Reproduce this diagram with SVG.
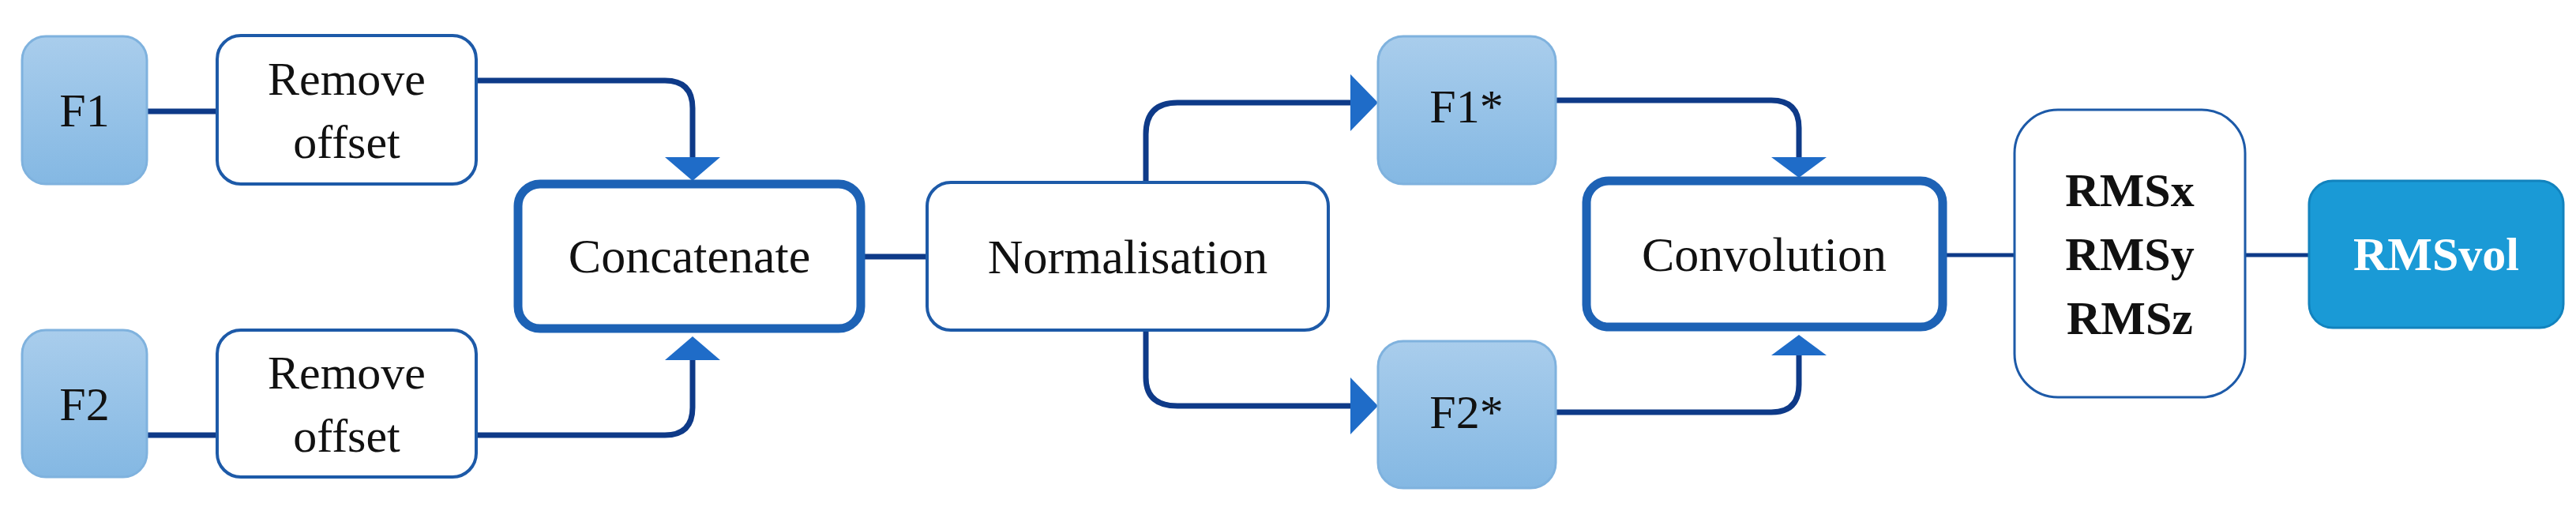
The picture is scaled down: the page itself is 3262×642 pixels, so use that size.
<svg xmlns="http://www.w3.org/2000/svg" width="3262" height="642" viewBox="0 0 3262 642">
<style>
text{font-family:"Liberation Serif",serif;font-size:60px;fill:#111;text-anchor:middle;dominant-baseline:central}
.lb{fill:url(#g);stroke:#7fb2de;stroke-width:3}
.wb{fill:#fff;stroke:#1d5aa8;stroke-width:4}
.tb{fill:#fff;stroke:#1d62b5;stroke-width:11}
.c{fill:none;stroke:#0e3a88;stroke-width:7}
.b{font-weight:bold}
</style>
<defs>
<linearGradient id="g" x1="0" y1="0" x2="0" y2="1"><stop offset="0" stop-color="#a9cdec"/><stop offset="1" stop-color="#84b8e3"/></linearGradient>
<marker id="a" markerWidth="10" markerHeight="10" refX="9" refY="5" orient="auto" markerUnits="userSpaceOnUse" viewBox="0 0 10 10" style="overflow:visible"><path d="M-28,-32 L9,5 L-28,42 Z" transform="translate(0,0)" fill="#1f6cc8"/></marker>
</defs>
<g id="connectors">
<path class="c" d="M186,141 H275"/>
<path class="c" d="M186,551 H275"/>
<path class="c" d="M603,102 H842 Q877,102 877,137 V200"/>
<polygon points="842,199 912,199 877,229" fill="#1f6cc8"/>
<path class="c" d="M603,551 H842 Q877,551 877,516 V456"/>
<polygon points="842,456 912,456 877,426" fill="#1f6cc8"/>
<path class="c" d="M1094,325 H1174"/>
<path class="c" d="M1451,231 V170 Q1451,130 1491,130 H1712"/>
<polygon points="1710,94 1745,130 1710,166" fill="#1f6cc8"/>
<path class="c" d="M1451,418 V478 Q1451,514 1491,514 H1712"/>
<polygon points="1710,478 1745,514 1710,550" fill="#1f6cc8"/>
<path class="c" d="M1970,127 H2243 Q2278,127 2278,162 V200"/>
<polygon points="2243,199 2313,199 2278,225" fill="#1f6cc8"/>
<path class="c" d="M1970,522 H2243 Q2278,522 2278,487 V450"/>
<polygon points="2243,450 2313,450 2278,424" fill="#1f6cc8"/>
<path class="c" d="M2464,323 H2551" style="stroke-width:5"/>
<path class="c" d="M2843,323 H2924" style="stroke-width:5"/>
</g>
<g id="F1"><rect class="lb" x="28" y="46" width="158" height="187" rx="30"/><text x="107" y="140">F1</text></g>
<g id="RO1"><rect class="wb" x="275" y="45" width="328" height="188" rx="30"/><text x="439" y="100">Remove</text><text x="439" y="180">offset</text></g>
<g id="F2"><rect class="lb" x="28" y="418" width="158" height="186" rx="30"/><text x="107" y="512">F2</text></g>
<g id="RO2"><rect class="wb" x="275" y="418" width="328" height="186" rx="30"/><text x="439" y="472">Remove</text><text x="439" y="552">offset</text></g>
<g id="Concat"><rect class="tb" x="656" y="233" width="434" height="183" rx="28"/><text x="873" y="324" style="font-size:62px">Concatenate</text></g>
<g id="Norm"><rect class="wb" x="1174" y="231" width="508" height="187" rx="30"/><text x="1428" y="325" style="font-size:62px">Normalisation</text></g>
<g id="F1s"><rect class="lb" x="1745" y="46" width="225" height="187" rx="32"/><text x="1857" y="135">F1*</text></g>
<g id="F2s"><rect class="lb" x="1745" y="432" width="225" height="186" rx="32"/><text x="1857" y="522">F2*</text></g>
<g id="Conv"><rect class="tb" x="2009" y="229" width="451" height="185" rx="28"/><text x="2234" y="322" style="font-size:62px">Convolution</text></g>
<g id="RMS"><rect class="wb" x="2551" y="139" width="292" height="364" rx="55" style="stroke-width:3"/><text class="b" x="2697" y="241">RMSx</text><text class="b" x="2697" y="322">RMSy</text><text class="b" x="2697" y="403">RMSz</text></g>
<g id="RMSvol"><rect x="2924" y="229" width="322" height="186" rx="30" fill="#1a9ad6" stroke="#1283be" stroke-width="3"/><text class="b" x="3085" y="322" style="fill:#fff">RMSvol</text></g>
</svg>
